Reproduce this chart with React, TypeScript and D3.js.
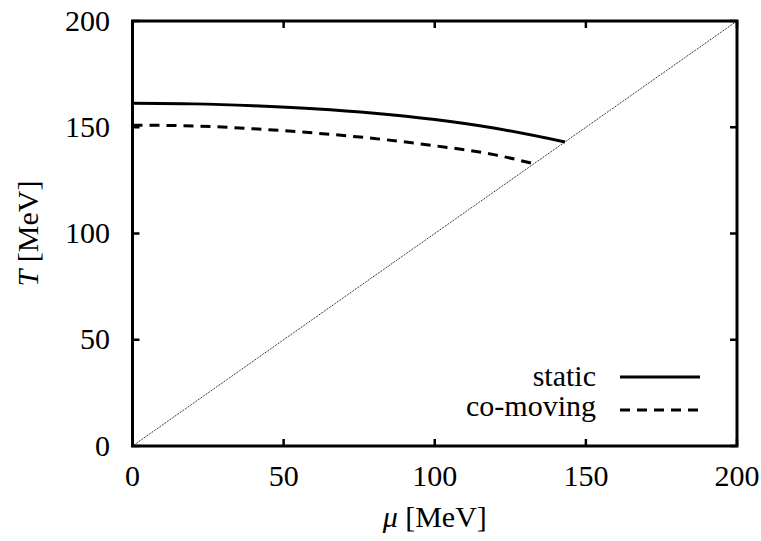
import React from "react";
import * as d3 from "d3";

// Freeze-out curves in the (mu, T) plane
const staticMu = [0, 20, 40, 60, 80, 100, 120, 143.1];
const staticT = [161.3, 161.0, 160.1, 158.7, 156.6, 153.6, 149.5, 143.1];
const comovingMu = [0, 20, 40, 60, 80, 100, 120, 132.8];
const comovingT = [151.0, 150.6, 149.3, 147.3, 144.7, 141.3, 137.0, 132.8];
const diagonal = [0, 200];

const xTicks = [0, 50, 100, 150, 200];
const yTicks = [0, 50, 100, 150, 200];
const legendLabels = ["static", "co-moving"];

const W = 761;
const H = 541;
const margin = { left: 132.5, right: 24, top: 21, bottom: 95 };
const FONT = "'Liberation Serif', 'Times New Roman', 'DejaVu Serif', serif";
const textStyle = { fontFamily: FONT };

export default function App() {
  const x = d3.scaleLinear().domain([0, 200]).range([margin.left, W - margin.right]);
  const y = d3.scaleLinear().domain([0, 200]).range([H - margin.bottom, margin.top]);
  const line = d3
    .line<[number, number]>()
    .x((d) => x(d[0]))
    .y((d) => y(d[1]))
    .curve(d3.curveMonotoneX);

  const staticPts = staticMu.map((m, i) => [m, staticT[i]] as [number, number]);
  const comovingPts = comovingMu.map((m, i) => [m, comovingT[i]] as [number, number]);
  const diagPts = diagonal.map((v) => [v, v] as [number, number]);

  const x0 = x(0), x1 = x(200), y0 = y(0), y1 = y(200);
  const tickLen = 7;
  const fs = 30;
  const dash = "10,7";

  return (
    <svg
      width={W}
      height={H}
      style={{ position: "absolute", left: 0, top: 0, background: "#fff", fontFamily: FONT }}
    >
      <rect x={0} y={0} width={W} height={H} fill="#fff" />
      {/* reference diagonal T = mu */}
      <path
        d={d3.line<[number, number]>().x((d) => x(d[0])).y((d) => y(d[1]))(diagPts) || ""}
        fill="none"
        stroke="#000"
        strokeWidth={1}
        strokeDasharray="1,1"
      />
      <path d={line(staticPts) || ""} fill="none" stroke="#000" strokeWidth={3} />
      <path d={line(comovingPts) || ""} fill="none" stroke="#000" strokeWidth={3} strokeDasharray={dash} />

      {/* ticks on all four sides, pointing inward */}
      {xTicks.map((t) => (
        <g key={"xt" + t}>
          <line x1={x(t)} x2={x(t)} y1={y0} y2={y0 - tickLen} stroke="#000" strokeWidth={2.5} />
          <line x1={x(t)} x2={x(t)} y1={y1} y2={y1 + tickLen} stroke="#000" strokeWidth={2.5} />
          <text x={x(t)} y={486} textAnchor="middle" fontSize={fs} style={textStyle}>
            {t}
          </text>
        </g>
      ))}
      {yTicks.map((t) => (
        <g key={"yt" + t}>
          <line x1={x0} x2={x0 + tickLen} y1={y(t)} y2={y(t)} stroke="#000" strokeWidth={2.5} />
          <line x1={x1} x2={x1 - tickLen} y1={y(t)} y2={y(t)} stroke="#000" strokeWidth={2.5} />
          <text x={110} y={y(t) + 9.5} textAnchor="end" fontSize={fs} style={textStyle}>
            {t}
          </text>
        </g>
      ))}

      {/* frame */}
      <rect x={x0} y={y1} width={x1 - x0} height={y0 - y1} fill="none" stroke="#000" strokeWidth={3} />

      {/* axis titles */}
      <text x={(x0 + x1) / 2} y={527} textAnchor="middle" fontSize={fs} style={textStyle}>
        <tspan fontStyle="italic">μ</tspan> [MeV]
      </text>
      <text
        transform={`translate(38, ${(y0 + y1) / 2}) rotate(-90)`}
        textAnchor="middle"
        fontSize={fs}
        style={textStyle}
      >
        <tspan fontStyle="italic">T</tspan> [MeV]
      </text>

      {/* legend */}
      <text x={596} y={386} textAnchor="end" fontSize={fs} style={textStyle}>
        {legendLabels[0]}
      </text>
      <line x1={620} x2={700} y1={377} y2={377} stroke="#000" strokeWidth={3} />
      <text x={596} y={416} textAnchor="end" fontSize={fs} style={textStyle}>
        {legendLabels[1]}
      </text>
      <line x1={620} x2={700} y1={410} y2={410} stroke="#000" strokeWidth={3} strokeDasharray={dash} />
    </svg>
  );
}
